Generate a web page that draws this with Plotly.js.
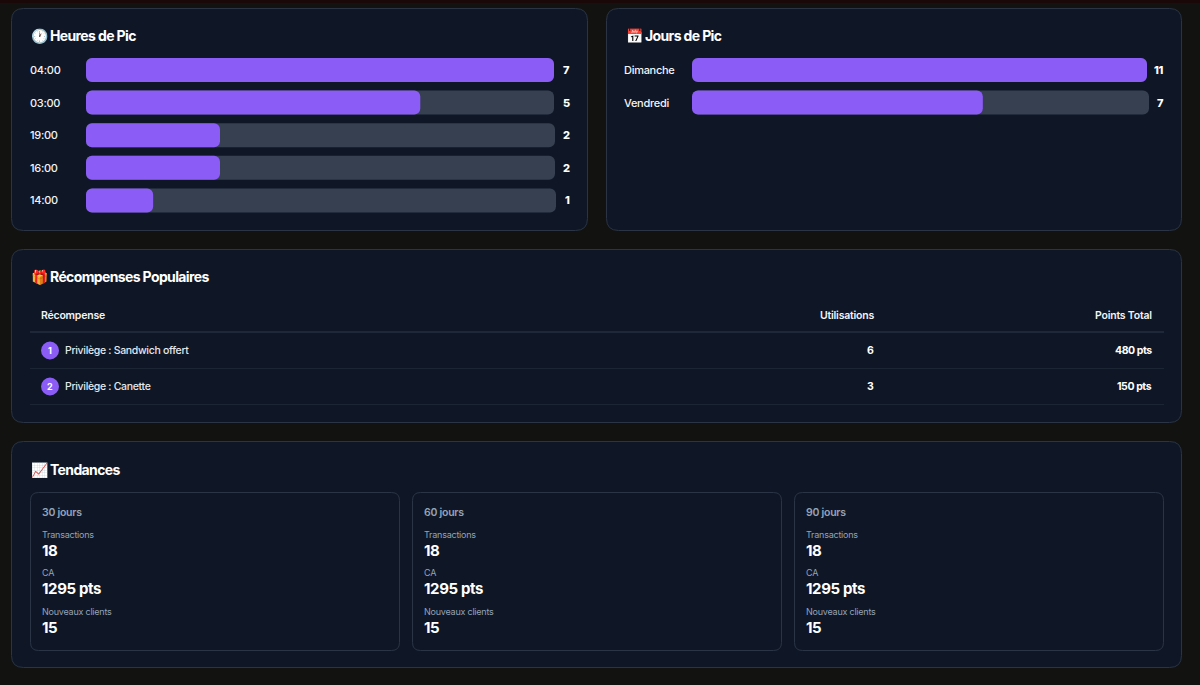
<!DOCTYPE html>
<html><head><meta charset="utf-8">
<script src="https://cdn.plot.ly/plotly-3.0.1.min.js"></script>
<style>html,body{margin:0;padding:0;background:#121210;overflow:hidden}</style></head>
<body><div id="chart" style="width:1200px;height:685px"></div>
<script>
const heuresLabels=['04:00','03:00','19:00','16:00','14:00'];
const heuresValues=[7,5,2,2,1];
const joursLabels=['Dimanche','Vendredi'];
const joursValues=[11,7];
const rewardNames=['Privilège : Sandwich offert','Privilège : Canette'];
const rewardUses=[6,3];
const rewardPoints=['480 pts','150 pts'];
const tableHeaders=['Récompense','Utilisations','Points Total'];
const periods=['30 jours','60 jours','90 jours'];
const transactions=['18','18','18'];
const revenue=['1295 pts','1295 pts','1295 pts'];
const newClients=['15','15','15'];
const metricNames=['Transactions','CA','Nouveaux clients'];
const titles=['🕐','Heures de Pic','📅','Jours de Pic','🎁','Récompenses Populaires','📈','Tendances'];

const W=1200,H=685,FONT='Inter, "Noto Sans", sans-serif';
const px=x=>x/W, py=y=>1-y/H;
const shapes=[],annotations=[],traces=[];
const layout={width:W,height:H,margin:{l:0,r:0,t:0,b:0,pad:0},paper_bgcolor:'#121210',plot_bgcolor:'rgba(0,0,0,0)',
  barmode:'overlay',showlegend:false,shapes,annotations,font:{family:FONT}};

function rr(x0,y0,x1,y1,r,fill,line){
  const X=v=>px(v),Y=v=>py(v),rx=r/W,ry=r/H;
  const path=`M ${X(x0)+rx} ${Y(y0)} L ${X(x1)-rx} ${Y(y0)} Q ${X(x1)} ${Y(y0)} ${X(x1)} ${Y(y0)-ry} L ${X(x1)} ${Y(y1)+ry} Q ${X(x1)} ${Y(y1)} ${X(x1)-rx} ${Y(y1)} L ${X(x0)+rx} ${Y(y1)} Q ${X(x0)} ${Y(y1)} ${X(x0)} ${Y(y1)+ry} L ${X(x0)} ${Y(y0)-ry} Q ${X(x0)} ${Y(y0)} ${X(x0)+rx} ${Y(y0)} Z`;
  shapes.push({type:'path',xref:'paper',yref:'paper',path,fillcolor:fill,line:{color:line,width:1},layer:'below'});
}
function txt(x,y,text,size,color,weight,anchor,em){
  const sp=((em===undefined?-0.025:em)*size).toFixed(2);
  annotations.push({xref:'paper',yref:'paper',x:px(x),y:py(y),text:`<span style="letter-spacing:${sp}px">${text}</span>`,showarrow:false,xanchor:anchor||'left',yanchor:'middle',
    font:{family:FONT,size,color,weight:weight||400},borderpad:0,borderwidth:0});
}
function hline(x0,x1,y,color){
  shapes.push({type:'line',xref:'paper',yref:'paper',x0:px(x0),x1:px(x1),y0:py(y),y1:py(y),line:{color,width:1},layer:'below'});
}

// page strip + panels
shapes.push({type:'rect',xref:'paper',yref:'paper',x0:0,x1:1,y0:py(3),y1:1,fillcolor:'#1a0707',line:{width:0},layer:'below'});
const PANEL='#0f1726',BORDER='#2a3444';
rr(11.5,8.5,587.5,230.5,12,PANEL,BORDER);
rr(606.5,8.5,1181.5,230.5,12,PANEL,BORDER);
rr(11.5,249.5,1181.5,422.5,12,PANEL,BORDER);
rr(11.5,441.5,1181.5,667.5,12,PANEL,BORDER);

// titles
[[31,36],[50,36],[626,36],[645,36],[31,277],[50,277],[31,469.5],[50,469.5]].forEach((p,i)=>{
  i%2?txt(p[0],p[1],titles[i],14,'#ffffff',700,'left',-0.045):txt(p[0],p[1],titles[i],14,'#ffffff',400,'left',0);
});

// bars: each row has its own x scale, as each track has its own width
let axisN=1;
function barGroup(labels,values,xStart,trackEnds,firstY,step,labelX,valueX,yName){
  const yKey='yaxis'+yName;
  const top=firstY-step/2,bottom=firstY+step*(labels.length-0.5);
  layout[yKey]={domain:[py(bottom),py(top)],range:[labels.length-0.5,-0.5],type:'category',categoryorder:'array',categoryarray:labels,
    visible:false,fixedrange:true,anchor:'free',position:0};
  const maxV=Math.max(...values);
  labels.forEach((lab,i)=>{
    const n=axisN++,key='xaxis'+(n===1?'':n),ref='x'+(n===1?'':n);
    layout[key]={domain:[px(xStart),px(trackEnds[i])],range:[0,maxV],visible:false,fixedrange:true,anchor:'y'+yName};
    const common={type:'bar',orientation:'h',y:[lab],base:[0],xaxis:ref,yaxis:'y'+yName,width:0.736,hoverinfo:'skip',cliponaxis:false};
    traces.push(Object.assign({},common,{x:[maxV],marker:{color:'#364051',cornerradius:6,line:{width:0}}}));
    traces.push(Object.assign({},common,{x:[values[i]],marker:{color:'#8b5cf6',cornerradius:6,line:{width:0}}}));
    txt(labelX,firstY+step*i,lab,11,'#f3f4f6',500);
    txt(valueX,firstY+step*i,String(values[i]),11,'#ffffff',800,'right');
  });
}
barGroup(heuresLabels,heuresValues,86,[554,554,555,555,556],70,32.6,30,570,'');
barGroup(joursLabels,joursValues,692,[1147,1149],70,32.6,624,1164,'2');

// table
txt(41,316,tableHeaders[0],10.5,'#f3f4f6',600,'left',-0.02);
txt(874,316,tableHeaders[1],10.5,'#f3f4f6',600,'right',-0.02);
txt(1152,316,tableHeaders[2],10.5,'#f3f4f6',600,'right',-0.02);
hline(30,1164,332,'#2f3a4b');
rewardNames.forEach((name,i)=>{
  const y=350.5+36*i;
  shapes.push({type:'circle',xref:'paper',yref:'paper',x0:px(41),x1:px(59),y0:py(y+9),y1:py(y-9),fillcolor:'#8b5cf6',line:{width:0},layer:'below'});
  txt(50,y,String(i+1),9,'#ffffff',700,'center',0);
  txt(65,y,name,10.5,'#e5e7eb',500,'left',-0.03);
  txt(874,y,String(rewardUses[i]),10.5,'#ffffff',700,'right');
  txt(1152,y,rewardPoints[i],10.5,'#ffffff',700,'right',-0.04);
  hline(30,1164,y+18,'#1c2534');
});

// trends
periods.forEach((p,i)=>{
  const x=30+382*i;
  rr(x+.5,492.5,x+369.5,650.5,8,PANEL,BORDER);
  const tx=x+12;
  txt(tx,512.5,p,10.5,'#94a3b8',600);
  txt(tx,534,metricNames[0],9,'#94a3b8',400);
  txt(tx,550.5,transactions[i],15,'#ffffff',700);
  txt(tx,572.5,metricNames[1],9,'#94a3b8',400);
  txt(tx,588.5,revenue[i],15,'#ffffff',700);
  txt(tx,611,metricNames[2],9,'#94a3b8',400);
  txt(tx,627.5,newClients[i],15,'#ffffff',700);
});

Plotly.newPlot('chart',traces,layout,{displayModeBar:false,staticPlot:true});
</script></body></html>
